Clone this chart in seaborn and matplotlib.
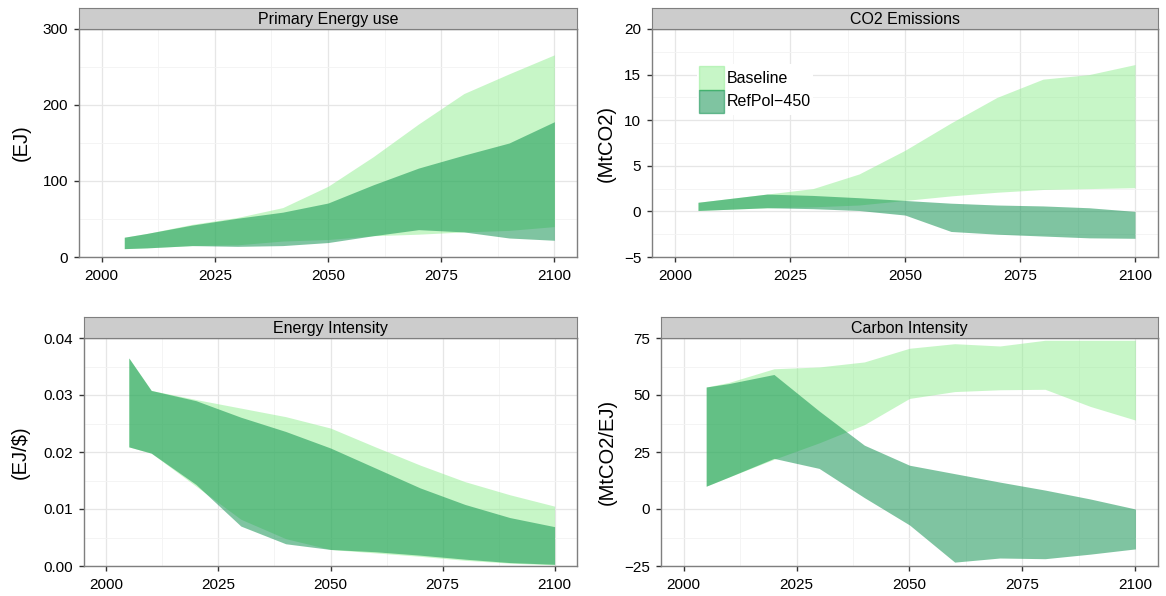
import numpy as np
import pandas as pd
import matplotlib
matplotlib.use("Agg")
import matplotlib.pyplot as plt
import seaborn as sns
from matplotlib.patches import Patch
from matplotlib.ticker import MultipleLocator, FuncFormatter

# ---------------- data ----------------
years = [2005, 2010, 2020, 2030, 2040, 2050, 2060, 2070, 2080, 2090, 2100]
scenarios = ["Baseline", "RefPol\u2212450"]
panels = ["Primary Energy use", "CO2 Emissions", "Energy Intensity", "Carbon Intensity"]
units = ["(EJ)", "(MtCO2)", "(EJ/$)", "(MtCO2/EJ)"]

# Primary Energy use (EJ)
pe_base_lo = [11, 12, 15, 16, 21, 23, 28, 30, 33, 35, 40]
pe_base_hi = [26, 31, 43, 52, 65, 93, 132, 175, 215, 241, 266]
pe_pol_lo = [11, 12, 15, 14, 15, 19, 28, 36, 33, 25, 22]
pe_pol_hi = [26, 31, 42, 51, 59, 71, 95, 117, 134, 150, 178]

# CO2 Emissions (MtCO2)
co2_base_lo = [0.1, 0.2, 0.4, 0.5, 0.7, 1.2, 1.7, 2.1, 2.4, 2.5, 2.6]
co2_base_hi = [1.0, 1.3, 1.9, 2.5, 4.1, 6.7, 9.7, 12.5, 14.5, 15.0, 16.1]
co2_pol_lo = [0.1, 0.2, 0.4, 0.3, 0.1, -0.4, -2.2, -2.5, -2.7, -2.9, -2.95]
co2_pol_hi = [1.0, 1.3, 1.9, 1.75, 1.5, 1.2, 0.9, 0.7, 0.6, 0.4, 0.0]

# Energy Intensity (EJ/$)
ei_base_lo = [0.0209, 0.0198, 0.0140, 0.0082, 0.0048, 0.0029, 0.0023, 0.0017, 0.0010, 0.0005, 0.0002]
ei_base_hi = [0.0365, 0.0308, 0.0292, 0.0277, 0.0262, 0.0242, 0.0209, 0.0177, 0.0148, 0.0125, 0.0105]
ei_pol_lo = [0.0209, 0.0198, 0.0143, 0.0070, 0.0039, 0.0029, 0.0025, 0.0019, 0.0012, 0.0006, 0.0003]
ei_pol_hi = [0.0365, 0.0308, 0.0290, 0.0261, 0.0236, 0.0207, 0.0172, 0.0137, 0.0108, 0.0085, 0.0069]

# Carbon Intensity (MtCO2/EJ)
ci_base_lo = [10, 14, 21.8, 29, 37, 48.5, 51.5, 52.3, 52.5, 45, 39]
ci_base_hi = [53.5, 55.5, 61.5, 62.3, 64.5, 70.5, 72.5, 71.5, 74, 74, 74]
ci_pol_lo = [10, 14, 22.2, 17.8, 5, -7, -23.3, -21.5, -21.8, -19.8, -17.5]
ci_pol_hi = [53.5, 55, 59, 43, 28, 19.2, 15.5, 11.8, 8.3, 4.4, 0]

ylims = [(0, 300), (-5, 20), (0, 0.04), (-25, 75)]
ysteps = [100, 5, 0.01, 25]

colors = {"Baseline": "#90EE90", "RefPol\u2212450": "#008B45"}

# long-form table: each year has a low and a high row per scenario,
# seaborn's 0-100 percentile band then spans exactly low..high
bands = {
    panels[0]: {scenarios[0]: (pe_base_lo, pe_base_hi), scenarios[1]: (pe_pol_lo, pe_pol_hi)},
    panels[1]: {scenarios[0]: (co2_base_lo, co2_base_hi), scenarios[1]: (co2_pol_lo, co2_pol_hi)},
    panels[2]: {scenarios[0]: (ei_base_lo, ei_base_hi), scenarios[1]: (ei_pol_lo, ei_pol_hi)},
    panels[3]: {scenarios[0]: (ci_base_lo, ci_base_hi), scenarios[1]: (ci_pol_lo, ci_pol_hi)},
}
rows = []
for var, sc_dict in bands.items():
    for sc, (lo, hi) in sc_dict.items():
        for y, a, b in zip(years, lo, hi):
            rows.append({"variable": var, "scenario": sc, "year": y, "value": a})
            rows.append({"variable": var, "scenario": sc, "year": y, "value": b})
df = pd.DataFrame(rows)

# ---------------- style ----------------
sns.set_theme(style="white")
plt.rcParams["font.family"] = ["Liberation Sans", "DejaVu Sans"]
plt.rcParams["axes.unicode_minus"] = True
plt.rcParams["text.color"] = "black"

W, H = 1166, 596
fig = plt.figure(figsize=(W / 100, H / 100), dpi=100)
fig.patch.set_facecolor("white")

# pixel geometry: (x0, x1, y_top, y_bottom, strip_top)
geo = [
    (79, 577, 29, 257, 8),
    (652, 1158, 29, 257, 8),
    (84, 577, 338, 566, 317),
    (661, 1158, 338, 566, 317),
]
ylab_x = [21, 606, 20, 607]


def fmt_factory(dec):
    def f(v, pos):
        s = f"{v:.{dec}f}" if dec else f"{v:g}"
        if abs(v) < 1e-12:
            s = f"{0:.{dec}f}" if dec else "0"
        return s.replace("-", "\u2212")
    return FuncFormatter(f)


border = "#7f7f7f"
for i, var in enumerate(panels):
    x0, x1, yt, yb, st = geo[i]
    ax = fig.add_axes([x0 / W, 1 - yb / H, (x1 - x0) / W, (yb - yt) / H])
    sub = df[df["variable"] == var]
    sns.lineplot(
        data=sub, x="year", y="value", hue="scenario", hue_order=scenarios,
        palette=colors, estimator="mean", errorbar=("pi", 100),
        err_kws={"alpha": 0.5, "linewidth": 0}, linewidth=0, legend=False, ax=ax,
    )
    for ln in ax.get_lines():
        ln.set_visible(False)
    ax.set_xlim(1995, 2105)
    ax.set_ylim(*ylims[i])
    ax.xaxis.set_major_locator(MultipleLocator(25))
    ax.xaxis.set_minor_locator(MultipleLocator(12.5))
    ax.yaxis.set_major_locator(MultipleLocator(ysteps[i]))
    ax.yaxis.set_minor_locator(MultipleLocator(ysteps[i] / 2))
    ax.xaxis.set_major_formatter(fmt_factory(0))
    ax.yaxis.set_major_formatter(fmt_factory(2 if i == 2 else 0))
    ax.grid(True, which="major", color="#e6e6e6", linewidth=0.9)
    ax.grid(True, which="minor", color="#f3f3f3", linewidth=0.6)
    ax.set_axisbelow(True)
    for sp in ax.spines.values():
        sp.set_visible(True)
        sp.set_color(border)
        sp.set_linewidth(1.0)
    ax.tick_params(axis="both", which="major", direction="out", length=3.8, width=1.0,
                   color="#333333", labelsize=11, labelcolor="black",
                   bottom=True, left=True, top=False, right=False)
    ax.tick_params(axis="x", which="major", pad=5)
    ax.tick_params(axis="y", which="major", pad=4)
    ax.tick_params(which="minor", length=0, bottom=False, left=False)
    ax.set_xlabel("")
    ax.set_ylabel("")
    ax.set_facecolor("white")

    # facet strip
    sax = fig.add_axes([x0 / W, 1 - yt / H, (x1 - x0) / W, (yt - st) / H])
    sax.set_facecolor("#cccccc")
    sax.set_xticks([])
    sax.set_yticks([])
    for sp in sax.spines.values():
        sp.set_color(border)
        sp.set_linewidth(0.8)
    sax.text(0.5, 0.45, var, ha="center", va="center", fontsize=11.5, color="black",
             transform=sax.transAxes)

    # y-axis title
    fig.text(ylab_x[i] / W, 1 - ((yt + yb) / 2) / H, units[i], rotation=90,
             ha="center", va="center", fontsize=14.5, color="black")

# legend inside CO2 panel
handles = [Patch(facecolor=colors[s], alpha=0.5, edgecolor=colors[s], linewidth=1.0)
           for s in scenarios]
leg = fig.legend(handles, scenarios, loc="upper left",
                 bbox_to_anchor=(697 / W, 1 - 64 / H), bbox_transform=fig.transFigure,
                 frameon=True, fontsize=11.5, handlelength=1.55, handleheight=1.85,
                 labelspacing=0.0, handletextpad=0.15, borderpad=0.15, borderaxespad=0.0,
                 fancybox=False)
leg.get_frame().set_facecolor("white")
leg.get_frame().set_edgecolor("none")
leg.get_frame().set_alpha(1.0)
for t in leg.get_texts():
    t.set_color("black")

fig.savefig("out.png", dpi=100, facecolor="white")
